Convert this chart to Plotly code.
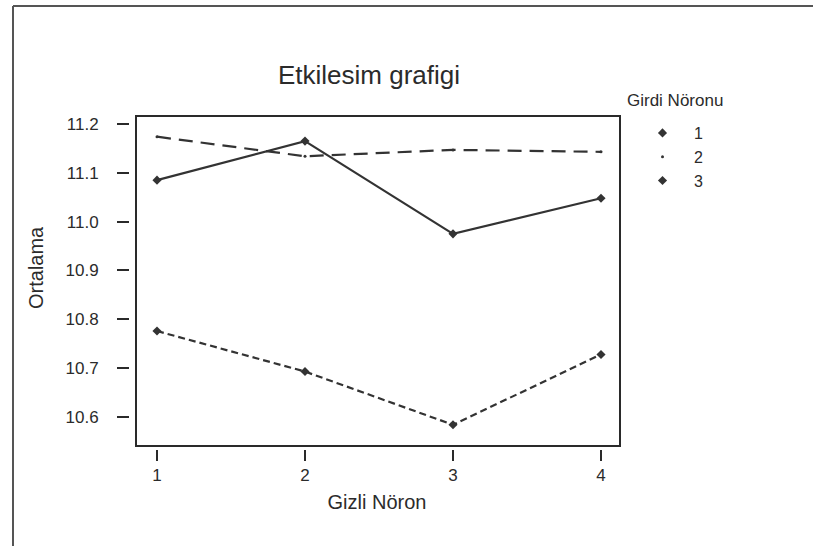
import plotly.graph_objects as go

# ---- data ----
gizli_noron = [1, 2, 3, 4]
girdi_noronu = ["1", "2", "3"]
ortalama_1 = [11.085, 11.165, 10.975, 11.048]
ortalama_2 = [11.174, 11.134, 11.147, 11.143]
ortalama_3 = [10.776, 10.693, 10.584, 10.728]
y_ticks = [10.6, 10.7, 10.8, 10.9, 11.0, 11.1, 11.2]
y_tick_labels = ["10.6", "10.7", "10.8", "10.9", "11.0", "11.1", "11.2"]

W, H = 813, 546
L, R, T, B = 130, 624, 110, 449

line_col = "#333333"
txt_col = "#2b2b2b"
font = "Liberation Sans, Arial, sans-serif"

series = [
    (ortalama_1, "solid", "diamond", 7),
    (ortalama_2, "14px,8px", "circle", 3),
    (ortalama_3, "7px,4px", "diamond", 7),
]

fig = go.Figure()
for name, (vals, dash, sym, sz) in zip(girdi_noronu, series):
    fig.add_trace(go.Scatter(
        x=gizli_noron, y=vals, mode="lines+markers",
        line=dict(color=line_col, width=2.2, dash=dash),
        marker=dict(symbol=sym, size=sz, color=line_col),
        showlegend=False, name=name,
    ))
# legend entries: markers only
for name, (vals, dash, sym, sz) in zip(girdi_noronu, series):
    fig.add_trace(go.Scatter(
        x=[None], y=[None], mode="markers", name=name,
        marker=dict(symbol=sym, size=sz, color=line_col),
        showlegend=True,
    ))

pw, ph = R - L, B - T
# inner box (slightly inset so ticks stand off the frame)
fig.add_shape(type="rect", xref="paper", yref="paper",
              x0=(136 - L) / pw, x1=(620 - L) / pw,
              y0=(B - 446) / ph, y1=(B - 116) / ph,
              line=dict(color="#2a2a2a", width=2))
# outer page frame (top and left edges)
fig.add_shape(type="line", xref="paper", yref="paper",
              x0=(13 - L) / pw, x1=(813 - L) / pw,
              y0=(B - 6) / ph, y1=(B - 6) / ph,
              line=dict(color="#555555", width=2))
fig.add_shape(type="line", xref="paper", yref="paper",
              x0=(13 - L) / pw, x1=(13 - L) / pw,
              y0=(B - 6) / ph, y1=(B - 546) / ph,
              line=dict(color="#555555", width=2))

# legend heading
fig.add_annotation(text="Girdi Nöronu", xref="paper", yref="paper",
                   x=(625 - L) / pw, xanchor="left", y=(B - 100) / ph, yanchor="middle",
                   showarrow=False, font=dict(size=17, color=txt_col))
# y axis title
fig.add_annotation(text="Ortalama", xref="paper", yref="paper",
                   x=(36 - L) / pw, xanchor="center", y=(B - 268) / ph, yanchor="middle",
                   textangle=-90, showarrow=False, font=dict(size=20, color=txt_col))

fig.update_layout(
    width=W, height=H,
    margin=dict(l=L, r=W - R, t=T, b=H - B),
    paper_bgcolor="white", plot_bgcolor="white",
    font=dict(family=font, color=txt_col, size=16),
    title=dict(text="Etkilesim grafigi", x=369 / W, xanchor="center",
               y=1 - 75 / H, yanchor="middle", yref="container",
               font=dict(size=26, color=txt_col)),
    legend=dict(x=(631 - L) / pw, xanchor="left", y=(B - 116) / ph, yanchor="top",
                font=dict(size=16, color=txt_col), tracegroupgap=0, itemwidth=53,
                bgcolor="rgba(0,0,0,0)"),
    showlegend=True,
)
fig.update_xaxes(
    range=[0.8176, 4.1554], tickvals=gizli_noron, ticktext=[str(v) for v in gizli_noron],
    showgrid=False, zeroline=False, showline=False,
    ticks="outside", ticklen=11, tickwidth=2, tickcolor="#2a2a2a",
    ticklabelstandoff=0, tickfont=dict(size=17),
    title=dict(text="Gizli Nöron", font=dict(size=20), standoff=10),
)
fig.update_yaxes(
    range=[10.5344, 11.2287], tickvals=y_ticks, ticktext=y_tick_labels,
    showgrid=False, zeroline=False, showline=False,
    ticks="outside", ticklen=12, tickwidth=2, tickcolor="#2a2a2a",
    ticklabelstandoff=15, tickfont=dict(size=17),
)

fig.write_html("out.html", config={"displayModeBar": False},
               post_script="document.body.style.margin='0';")
